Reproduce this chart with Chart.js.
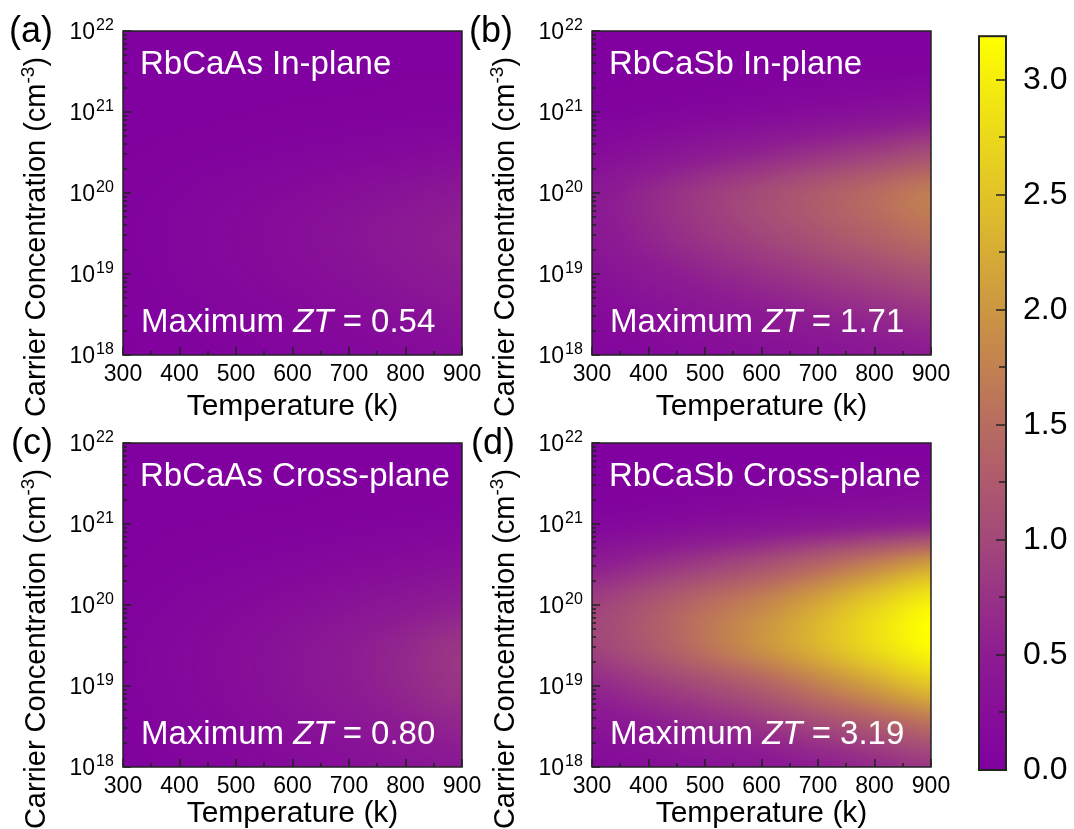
<!DOCTYPE html>
<html>
<head>
<meta charset="utf-8">
<title>ZT maps</title>
<script src="https://cdn.jsdelivr.net/npm/chart.js@4.4.1/dist/chart.umd.min.js"></script>
<style>
  html, body { margin: 0; padding: 0; background: #fff; }
  body { width: 1074px; height: 829px; position: relative; overflow: hidden; }
  canvas { position: absolute; }
</style>
</head>
<body>
<canvas id="pa" width="490" height="430" style="left:0px;top:0px"></canvas>
<canvas id="pb" width="490" height="430" style="left:469px;top:0px"></canvas>
<canvas id="pc" width="490" height="430" style="left:0px;top:412px"></canvas>
<canvas id="pd" width="490" height="430" style="left:469px;top:412px"></canvas>
<canvas id="cbar" width="114" height="829" style="left:960px;top:0px"></canvas>
<script>
// grid of the maps: temperature (K) and log10 of carrier concentration (cm^-3)
const temperatures = [300, 400, 500, 600, 700, 800, 900];
const logConc = [18, 18.5, 19, 19.5, 20, 20.5, 21, 21.5, 22];

// tick labels
const tempTicks = [300, 400, 500, 600, 700, 800, 900];
const concTickExp = [18, 19, 20, 21, 22];
const zTicks = [0, 0.5, 1.0, 1.5, 2.0, 2.5, 3.0];
const zMax = 3.19;

// ZT values, one row per logConc entry (10^18 first), one column per temperature
const ztAsIn = [
  [0.02, 0.04, 0.06, 0.09, 0.13, 0.18, 0.23],
  [0.03, 0.06, 0.10, 0.15, 0.21, 0.28, 0.35],
  [0.04, 0.09, 0.15, 0.22, 0.30, 0.39, 0.48],
  [0.05, 0.10, 0.17, 0.25, 0.34, 0.44, 0.54],
  [0.04, 0.08, 0.13, 0.19, 0.26, 0.34, 0.42],
  [0.02, 0.04, 0.06, 0.09, 0.12, 0.16, 0.20],
  [0.01, 0.01, 0.02, 0.03, 0.04, 0.05, 0.06],
  [0.00, 0.00, 0.01, 0.01, 0.01, 0.02, 0.02],
  [0.00, 0.00, 0.00, 0.00, 0.00, 0.00, 0.00]
];
const ztSbIn = [
  [0.10, 0.15, 0.21, 0.27, 0.33, 0.40, 0.47],
  [0.18, 0.27, 0.37, 0.46, 0.56, 0.66, 0.76],
  [0.30, 0.44, 0.58, 0.72, 0.86, 1.00, 1.14],
  [0.42, 0.60, 0.80, 0.98, 1.17, 1.36, 1.55],
  [0.42, 0.62, 0.84, 1.04, 1.25, 1.47, 1.70],
  [0.20, 0.32, 0.45, 0.58, 0.73, 0.88, 1.05],
  [0.05, 0.08, 0.12, 0.17, 0.23, 0.30, 0.38],
  [0.01, 0.02, 0.03, 0.04, 0.05, 0.06, 0.07],
  [0.00, 0.00, 0.00, 0.00, 0.00, 0.00, 0.00]
];
const ztAsCross = [
  [0.04, 0.08, 0.13, 0.19, 0.26, 0.34, 0.42],
  [0.05, 0.11, 0.18, 0.27, 0.37, 0.49, 0.60],
  [0.07, 0.14, 0.23, 0.34, 0.47, 0.62, 0.77],
  [0.07, 0.14, 0.23, 0.34, 0.47, 0.62, 0.78],
  [0.05, 0.10, 0.16, 0.24, 0.33, 0.43, 0.53],
  [0.02, 0.05, 0.08, 0.12, 0.17, 0.22, 0.28],
  [0.01, 0.02, 0.03, 0.04, 0.06, 0.08, 0.10],
  [0.00, 0.00, 0.01, 0.01, 0.02, 0.02, 0.03],
  [0.00, 0.00, 0.00, 0.00, 0.00, 0.00, 0.00]
];
const ztSbCross = [
  [0.18, 0.24, 0.32, 0.40, 0.52, 0.66, 0.80],
  [0.35, 0.46, 0.60, 0.76, 0.98, 1.22, 1.48],
  [0.62, 0.82, 1.05, 1.32, 1.70, 2.10, 2.50],
  [0.95, 1.22, 1.58, 1.95, 2.35, 2.78, 3.15],
  [0.92, 1.18, 1.50, 1.80, 2.20, 2.65, 3.05],
  [0.50, 0.68, 0.88, 1.10, 1.40, 1.75, 2.10],
  [0.12, 0.18, 0.25, 0.32, 0.40, 0.48, 0.56],
  [0.02, 0.03, 0.05, 0.07, 0.09, 0.11, 0.14],
  [0.00, 0.00, 0.00, 0.00, 0.00, 0.00, 0.00]
];

const panelLetters = ['(a)', '(b)', '(c)', '(d)'];
const panelTitles = ['RbCaAs In-plane', 'RbCaSb In-plane', 'RbCaAs Cross-plane', 'RbCaSb Cross-plane'];
const maxZT = ['0.54', '1.71', '0.80', '3.19'];

// colour map (purple -> yellow)
const cmapStops = [0, 0.5, 1.0, 1.5, 2.0, 2.5, 3.0, 3.19];
const cmapColors = [[128, 0, 160], [141, 28, 146], [163, 72, 122], [184, 108, 96],
  [204, 150, 66], [225, 195, 40], [245, 238, 12], [255, 255, 0]];

const FONT = '"Liberation Sans", Arial, sans-serif';

function colorAt(z) {
  if (z <= cmapStops[0]) return cmapColors[0];
  for (let i = 1; i < cmapStops.length; i++) {
    if (z <= cmapStops[i]) {
      const f = (z - cmapStops[i - 1]) / (cmapStops[i] - cmapStops[i - 1]);
      const a = cmapColors[i - 1], b = cmapColors[i];
      return [a[0] + (b[0] - a[0]) * f, a[1] + (b[1] - a[1]) * f, a[2] + (b[2] - a[2]) * f];
    }
  }
  return cmapColors[cmapColors.length - 1];
}

function cr(p0, p1, p2, p3, t) {
  return 0.5 * (2 * p1 + (-p0 + p2) * t + (2 * p0 - 5 * p1 + 4 * p2 - p3) * t * t +
    (-p0 + 3 * p1 - 3 * p2 + p3) * t * t * t);
}

// smooth shading between the grid nodes
function sampleGrid(grid, t, lg) {
  const nx = temperatures.length, ny = logConc.length;
  const fx = (t - temperatures[0]) / (temperatures[1] - temperatures[0]);
  const fy = (lg - logConc[0]) / (logConc[1] - logConc[0]);
  const ix = Math.min(Math.max(Math.floor(fx), 0), nx - 2);
  const iy = Math.min(Math.max(Math.floor(fy), 0), ny - 2);
  const tx = fx - ix, ty = fy - iy;
  const row = r => {
    const R = grid[Math.min(Math.max(r, 0), ny - 1)];
    const g = c => R[Math.min(Math.max(c, 0), nx - 1)];
    return cr(g(ix - 1), g(ix), g(ix + 1), g(ix + 2), tx);
  };
  return cr(row(iy - 1), row(iy), row(iy + 1), row(iy + 2), ty);
}

const heatPlugin = {
  id: 'heat',
  beforeDatasetsDraw(chart, args, opts) {
    const { ctx, chartArea: a, scales: { x, y } } = chart;
    const w = Math.round(a.right - a.left), h = Math.round(a.bottom - a.top);
    const off = document.createElement('canvas');
    off.width = w; off.height = h;
    const octx = off.getContext('2d');
    const img = octx.createImageData(w, h);
    const tCol = [];
    for (let px = 0; px < w; px++) tCol.push(x.getValueForPixel(a.left + px + 0.5));
    for (let py = 0; py < h; py++) {
      const lg = Math.log10(y.getValueForPixel(a.top + py + 0.5));
      for (let px = 0; px < w; px++) {
        const z = Math.min(Math.max(sampleGrid(opts.grid, tCol[px], lg), 0), zMax);
        const c = colorAt(z);
        const k = (py * w + px) * 4;
        img.data[k] = c[0]; img.data[k + 1] = c[1]; img.data[k + 2] = c[2]; img.data[k + 3] = 255;
      }
    }
    octx.putImageData(img, 0, 0);
    ctx.drawImage(off, a.left, a.top);
  }
};

const framePlugin = {
  id: 'frame',
  afterDraw(chart, args, opts) {
    const { ctx, chartArea: a, scales: { x, y } } = chart;
    ctx.save();
    ctx.strokeStyle = '#222';
    ctx.lineWidth = 1.5;
    ctx.beginPath();
    // inward ticks, bottom axis
    tempTicks.forEach((t, i) => {
      const px = Math.round(x.getPixelForValue(t));
      ctx.moveTo(px, a.bottom); ctx.lineTo(px, a.bottom - 8);
      if (i < tempTicks.length - 1) {
        const pm = Math.round(x.getPixelForValue(t + 50));
        ctx.moveTo(pm, a.bottom); ctx.lineTo(pm, a.bottom - 4);
      }
    });
    // inward ticks, left axis
    concTickExp.forEach((e, i) => {
      const py = Math.round(y.getPixelForValue(Math.pow(10, e)));
      ctx.moveTo(a.left, py); ctx.lineTo(a.left + 8, py);
      if (i < concTickExp.length - 1) {
        for (let m = 2; m <= 9; m++) {
          const pm = Math.round(y.getPixelForValue(m * Math.pow(10, e)));
          ctx.moveTo(a.left, pm); ctx.lineTo(a.left + 4, pm);
        }
      }
    });
    ctx.stroke();
    ctx.strokeRect(a.left, a.top, a.right - a.left, a.bottom - a.top);

    // y tick labels 10^n
    ctx.fillStyle = '#000';
    ctx.textBaseline = 'alphabetic';
    concTickExp.forEach(e => {
      const py = y.getPixelForValue(Math.pow(10, e));
      ctx.font = '23px ' + FONT;
      ctx.textAlign = 'right';
      ctx.fillText('10', a.left - 28, py + 8);
      ctx.font = '16px ' + FONT;
      ctx.textAlign = 'left';
      ctx.fillText(String(e), a.left - 27, py - 1);
    });

    // y axis title with superscript
    ctx.save();
    ctx.translate(a.left - 78, a.top + 206);
    ctx.rotate(-Math.PI / 2);
    ctx.textAlign = 'left';
    const main = 'Carrier Concentration (cm', sup = '-3', close = ')';
    ctx.font = '29px ' + FONT;
    const w1 = ctx.measureText(main).width, w3 = ctx.measureText(close).width;
    ctx.font = '19px ' + FONT;
    const w2 = ctx.measureText(sup).width;
    let cx = -(w1 + w2 + w3) / 2;
    ctx.font = '29px ' + FONT;
    ctx.fillText(main, cx, 0);
    cx += w1;
    ctx.font = '19px ' + FONT;
    ctx.fillText(sup, cx, -11);
    cx += w2;
    ctx.font = '29px ' + FONT;
    ctx.fillText(close, cx, 0);
    ctx.restore();

    // panel letter
    ctx.font = '36px ' + FONT;
    ctx.textAlign = 'left';
    ctx.fillStyle = '#000';
    ctx.fillText(opts.letter, a.left + opts.letterDx, a.top + 11);

    // white annotations
    ctx.fillStyle = '#fff';
    ctx.font = '33px ' + FONT;
    ctx.fillText(opts.title, a.left + 17, a.top + 43);
    let mx = a.left + 18;
    const my = a.bottom - 23;
    ctx.font = '33px ' + FONT;
    ctx.fillText('Maximum ', mx, my);
    mx += ctx.measureText('Maximum ').width;
    ctx.font = 'italic 33px ' + FONT;
    ctx.fillText('ZT', mx, my);
    mx += ctx.measureText('ZT').width;
    ctx.font = '33px ' + FONT;
    ctx.fillText(' = ' + opts.maxText, mx, my);
    ctx.restore();
  }
};

function makePanel(id, grid, idx, letterDx, titlePad) {
  const pts = [];
  logConc.forEach((lg, r) => temperatures.forEach((t, c) => pts.push({ x: t, y: Math.pow(10, lg), z: grid[r][c] })));
  return new Chart(document.getElementById(id), {
    type: 'scatter',
    data: { datasets: [{ data: pts, pointRadius: 0, pointHoverRadius: 0 }] },
    options: {
      responsive: false,
      animation: false,
      events: [],
      layout: { padding: { top: 31, right: 28, left: 0, bottom: 0 } },
      plugins: {
        legend: { display: false },
        tooltip: { enabled: false },
        heat: { grid },
        frame: { letter: panelLetters[idx], title: panelTitles[idx], maxText: maxZT[idx], letterDx }
      },
      scales: {
        x: {
          type: 'linear', position: 'bottom', min: 300, max: 900,
          grid: { display: false, drawTicks: false, tickLength: 0 },
          border: { display: false },
          afterBuildTicks: s => { s.ticks = tempTicks.map(v => ({ value: v })); },
          ticks: { padding: 6, color: '#000', font: { family: FONT, size: 23 }, autoSkip: false, maxRotation: 0 },
          title: { display: true, text: 'Temperature (k)', color: '#000', font: { family: FONT, size: 30 }, padding: { top: 0, bottom: titlePad } },
          afterFit: s => { s.height = 75; }
        },
        y: {
          type: 'logarithmic', position: 'left', min: 1e18, max: 1e22,
          grid: { display: false, drawTicks: false },
          border: { display: false },
          ticks: { display: false },
          afterFit: s => { s.width = 123; }
        }
      }
    },
    plugins: [heatPlugin, framePlugin]
  });
}

makePanel('pa', ztAsIn, 0, -114, 5);
makePanel('pb', ztSbIn, 1, -123, 5);
makePanel('pc', ztAsCross, 2, -112, 10);
makePanel('pd', ztSbCross, 3, -121, 10);

const colorbarPlugin = {
  id: 'colorbar',
  afterDraw(chart) {
    const { ctx, chartArea: a, scales: { y } } = chart;
    const y0 = y.getPixelForValue(0), y1 = y.getPixelForValue(zMax);
    const g = ctx.createLinearGradient(0, y0, 0, y1);
    cmapStops.forEach((s, i) => {
      const c = cmapColors[i];
      g.addColorStop(s / zMax, `rgb(${c[0]},${c[1]},${c[2]})`);
    });
    ctx.save();
    ctx.fillStyle = g;
    ctx.fillRect(a.left, a.top, a.right - a.left, a.bottom - a.top);
    ctx.strokeStyle = '#222';
    ctx.lineWidth = 1.5;
    ctx.beginPath();
    zTicks.forEach((v, i) => {
      const py = Math.round(y.getPixelForValue(v));
      ctx.moveTo(a.right, py); ctx.lineTo(a.right - 10, py);
      if (i < zTicks.length - 1) {
        const pm = Math.round(y.getPixelForValue(v + 0.25));
        ctx.moveTo(a.right, pm); ctx.lineTo(a.right - 7, pm);
      }
    });
    ctx.stroke();
    ctx.lineWidth = 2;
    ctx.strokeRect(a.left, a.top, a.right - a.left, a.bottom - a.top);
    ctx.restore();
  }
};

new Chart(document.getElementById('cbar'), {
  type: 'scatter',
  data: { datasets: [] },
  options: {
    responsive: false,
    animation: false,
    events: [],
    layout: { padding: { left: 19, top: 32, bottom: 59, right: 0 } },
    plugins: { legend: { display: false }, tooltip: { enabled: false } },
    scales: {
      x: { display: false, min: 0, max: 1 },
      y: {
        type: 'linear', position: 'right', min: 0, max: zMax,
        grid: { display: false, drawTicks: false },
        border: { display: false },
        afterBuildTicks: s => { s.ticks = zTicks.map(v => ({ value: v })); },
        ticks: { padding: 17, color: '#000', font: { family: FONT, size: 32 }, autoSkip: false, callback: v => v.toFixed(1) },
        afterFit: s => { s.width = 68; }
      }
    }
  },
  plugins: [colorbarPlugin]
});
</script>
</body>
</html>
